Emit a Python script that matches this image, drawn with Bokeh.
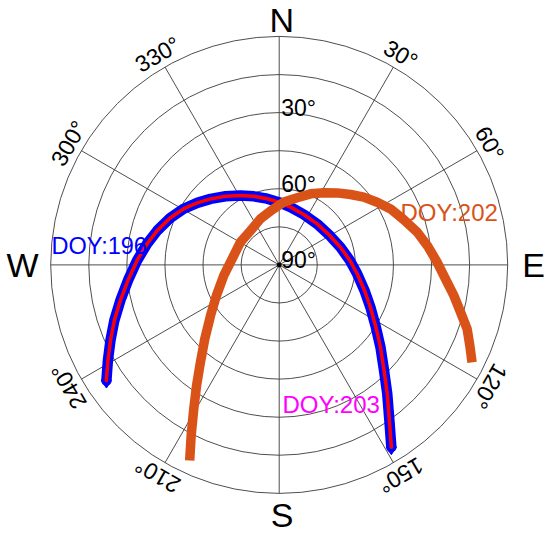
import numpy as np
from bokeh.plotting import figure
from bokeh.models import Range1d
from bokeh.core.properties import value
from bokeh.embed import file_html
from bokeh.resources import INLINE

# ---------------- data (azimuth deg clockwise from N, elevation deg) ----------------
doy196_az = [236.2, 240.8, 245.9, 251.4, 257.4, 264.1, 271.8, 279.1, 285.7, 293.4,
             300.5, 307.1, 313.9, 322.0, 330.9, 339.7, 349.7, 359.6, 11.1, 26.0,
             42.8, 58.5, 73.9, 86.4, 96.5, 106.7, 114.9, 122.8, 129.1, 135.2,
             140.0, 144.7, 148.4]
doy196_el = [8.1, 12.7, 17.2, 21.5, 25.9, 30.1, 34.0, 37.3, 40.1, 43.3,
             46.4, 49.5, 52.5, 55.7, 58.7, 61.2, 63.5, 65.3, 66.8, 67.9,
             68.0, 67.1, 64.9, 62.1, 59.1, 54.9, 50.4, 44.7, 38.6, 31.4,
             23.8, 14.9, 5.7]

doy203_az = [236.2, 240.8, 245.9, 251.4, 257.4, 264.1, 271.8, 279.1, 285.7, 293.4,
             300.5, 307.1, 313.9, 322.0, 330.9, 339.7, 349.7, 359.6, 11.1, 26.0,
             42.8, 58.5, 73.9, 86.4, 96.5, 106.7, 114.9, 122.8, 129.1, 135.2,
             140.0, 144.7, 148.4]
doy203_el = [8.1, 12.7, 17.2, 21.5, 25.9, 30.1, 34.0, 37.3, 40.1, 43.3,
             46.4, 49.5, 52.5, 55.7, 58.7, 61.2, 63.5, 65.3, 66.8, 67.9,
             68.0, 67.1, 64.9, 62.1, 59.1, 54.9, 50.4, 44.7, 38.6, 31.4,
             23.8, 14.9, 5.7]

doy202_az = [204.6, 207.3, 210.7, 214.4, 219.0, 225.2, 233.6, 244.0, 259.2, 277.4,
             300.4, 320.2, 337.9, 352.8, 4.2, 15.0, 23.8, 31.7, 38.8, 45.4,
             51.3, 57.4, 63.3, 70.1, 76.7, 82.9, 89.0, 94.8, 99.9, 104.6,
             108.8, 112.9, 116.8]
doy202_el = [5.3, 14.4, 24.1, 32.4, 40.7, 48.7, 56.4, 62.5, 67.8, 71.3,
             72.3, 72.4, 70.4, 68.1, 65.2, 62.6, 59.4, 56.6, 53.6, 50.5,
             47.3, 44.2, 40.9, 37.8, 34.1, 31.0, 27.8, 24.3, 20.2, 16.2,
             11.8, 8.5, 4.9]

elev_rings = [0, 15, 30, 45, 60, 75]
elev_labels = ["30°", "60°", "90°"]
elev_label_vals = [30, 60, 90]
az_lines = [0, 30, 60, 90, 120, 150, 180, 210, 240, 270, 300, 330]
az_labels = ["30°", "60°", "120°", "150°", "210°", "240°", "300°", "330°"]
az_label_vals = [30, 60, 120, 150, 210, 240, 300, 330]
compass = ["N", "E", "S", "W"]

# ---------------- layout ----------------
W, H = 550, 538
CX, CY = 278.7, 264.4          # centre in figure pixels (from top-left)
RPX = 228.5                    # outer radius in px
S = RPX / 90.0                 # px per degree of zenith angle

p = figure(width=W, height=H, output_backend="svg", toolbar_location=None,
           x_range=Range1d(-CX / S, (W - CX) / S),
           y_range=Range1d(-(H - CY) / S, CY / S),
           min_border=0)
p.axis.visible = False
p.grid.visible = False
p.outline_line_color = None
p.background_fill_color = "white"
p.border_fill_color = "white"


def to_xy(az, el):
    a = np.radians(np.asarray(az, dtype=float))
    r = 90.0 - np.asarray(el, dtype=float)
    return r * np.sin(a), r * np.cos(a)


GRID = "#3a3a3a"
# rings
p.circle(x=[0] * len(elev_rings), y=[0] * len(elev_rings),
         radius=[90 - e for e in elev_rings], fill_color=None,
         line_color=GRID, line_width=0.9)
# radial lines
ax = np.radians(az_lines)
p.segment(x0=[0] * len(az_lines), y0=[0] * len(az_lines),
          x1=list(90 * np.sin(ax)), y1=list(90 * np.cos(ax)),
          line_color=GRID, line_width=0.9)
p.scatter([0], [0], size=4, color="black")

FONT = value("Liberation Sans")

# elevation labels
p.text(x=[2.0 / S] * 3, y=[90 - e + 5.0 / S for e in elev_label_vals], text=elev_labels,
       text_font=FONT, text_font_size="23px", text_color="black",
       text_align="left", text_baseline="alphabetic")

# azimuth labels
lx, ly = to_xy(az_label_vals, [-(14.5 / S)] * len(az_label_vals))
p.text(x=list(lx), y=list(ly), text=az_labels,
       angle=[-np.radians(a) for a in az_label_vals],
       text_font=FONT, text_font_size="23px", text_color="black",
       text_align="center", text_baseline="middle")

# compass letters (positions in px from centre, text middle)
cpx = [(2.5, -244.6), (254.3, 0.4), (2.8, 250.0), (-256.7, 0.4)]
p.text(x=[c[0] / S for c in cpx], y=[-c[1] / S for c in cpx], text=compass,
       text_font=FONT, text_font_size="34px", text_color="black",
       text_align="center", text_baseline="middle")

# tracks
bx, by = to_xy(doy196_az, doy196_el)
p.line(list(bx), list(by), line_color="#0000FF", line_width=10.5,
       line_join="round", line_cap="round")
p.scatter([bx[0], bx[-1]], [by[0], by[-1]], marker="diamond", size=15,
          color="#0000FF")
rx, ry = to_xy(doy203_az, doy203_el)
p.line(list(rx), list(ry), line_color="#FF0000", line_width=3.5,
       line_join="round", line_cap="round")
ox, oy = to_xy(doy202_az, doy202_el)
p.line(list(ox), list(oy), line_color="#D95319", line_width=9.5,
       line_join="round", line_cap="butt")

# DOY labels (px from centre: left, baseline)
p.text(x=[(51 - CX) / S], y=[(CY - 245) / S], text=["DOY:196"],
       text_font=FONT, text_font_size="23.5px", text_color="#0000FF",
       text_align="left", text_baseline="alphabetic")
p.text(x=[(400 - CX) / S], y=[(CY - 212) / S], text=["DOY:202"],
       text_font=FONT, text_font_size="24px", text_color="#D95319",
       text_align="left", text_baseline="alphabetic")
p.text(x=[(282 - CX) / S], y=[(CY - 403.5) / S], text=["DOY:203"],
       text_font=FONT, text_font_size="24px", text_color="#FF00FF",
       text_align="left", text_baseline="alphabetic")

open("out.html", "w").write(file_html(p, INLINE))
